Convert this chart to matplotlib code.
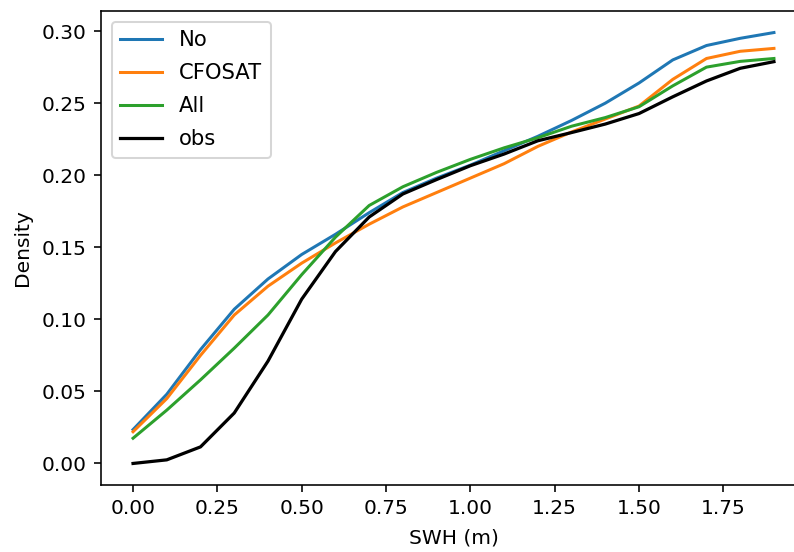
import matplotlib
matplotlib.use("Agg")
import matplotlib.pyplot as plt
import numpy as np

swh = [0.0, 0.1, 0.2, 0.3, 0.4, 0.5, 0.6, 0.7, 0.8, 0.9,
       1.0, 1.1, 1.2, 1.3, 1.4, 1.5, 1.6, 1.7, 1.8, 1.9]
no = [0.0235, 0.048, 0.079, 0.107, 0.128, 0.145, 0.159, 0.174, 0.188, 0.198,
      0.207, 0.217, 0.227, 0.238, 0.250, 0.264, 0.280, 0.290, 0.295, 0.299]
cfosat = [0.022, 0.045, 0.075, 0.103, 0.123, 0.139, 0.153, 0.166, 0.178, 0.188,
          0.198, 0.208, 0.220, 0.230, 0.239, 0.248, 0.2665, 0.281, 0.286, 0.288]
all_ = [0.0175, 0.037, 0.058, 0.080, 0.103, 0.131, 0.157, 0.179, 0.192, 0.202,
        0.211, 0.219, 0.226, 0.234, 0.240, 0.2475, 0.262, 0.275, 0.279, 0.281]
obs = [0.0, 0.0025, 0.0115, 0.035, 0.071, 0.114, 0.147, 0.171, 0.187, 0.197,
       0.2066, 0.2147, 0.2239, 0.2296, 0.2355, 0.2428, 0.2544, 0.2654, 0.2742, 0.2788]

DPI = 145
fig = plt.figure(figsize=(794 / DPI, 552 / DPI), dpi=DPI)
ax = fig.add_axes([101/794, 67/552, 705/794, 474/552])

ax.plot(swh, no, color="#1f77b4", label="No")
ax.plot(swh, cfosat, color="#ff7f0e", label="CFOSAT")
ax.plot(swh, all_, color="#2ca02c", label="All")
ax.plot(swh, obs, color="black", lw=1.6, label="obs")

ax.set_xticks([0.0, 0.25, 0.5, 0.75, 1.0, 1.25, 1.5, 1.75])
ax.set_yticks([0.0, 0.05, 0.10, 0.15, 0.20, 0.25, 0.30])
ax.xaxis.set_major_formatter(matplotlib.ticker.FormatStrFormatter("%.2f"))
ax.yaxis.set_major_formatter(matplotlib.ticker.FormatStrFormatter("%.2f"))
ax.spines["right"].set_visible(False)
ax.set_xlabel("SWH (m)", labelpad=5)
ax.set_ylabel("Density", labelpad=5)
ax.legend(loc="upper left", fontsize=10.5, labelspacing=0.62)

fig.savefig("out.png", dpi=DPI)
